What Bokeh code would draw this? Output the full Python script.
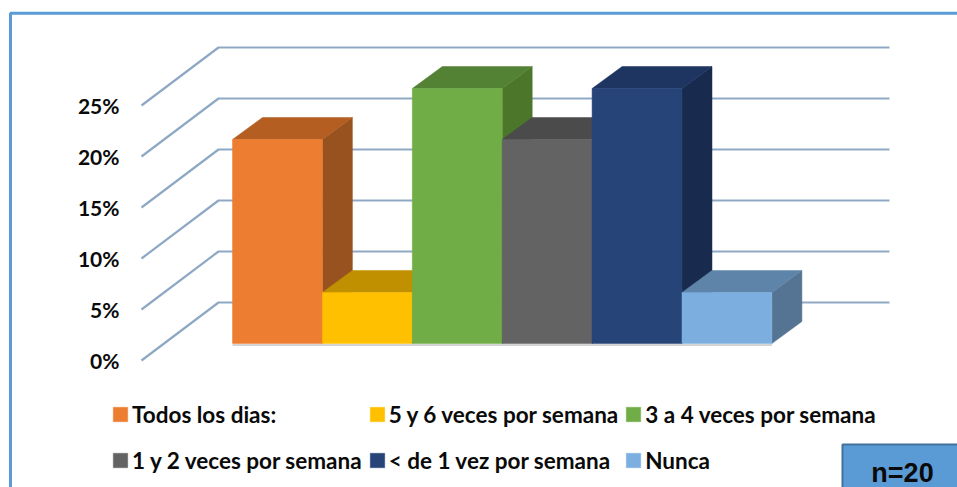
from bokeh.plotting import figure
from bokeh.embed import file_html
from bokeh.resources import INLINE
from bokeh.models import Range1d, FixedTicker, Legend, LegendItem, BoxAnnotation, Label

categories = ["Todos los dias:", "5 y 6 veces por semana", "3 a 4 veces por semana",
              "1 y 2 veces por semana", "< de 1 vez por semana", "Nunca"]
values = [20, 5, 25, 20, 25, 5]
front_colors = ["#ed7d31", "#ffc000", "#70ad47", "#636363", "#264478", "#7cafdf"]
top_colors = ["#b45e22", "#c19000", "#548235", "#4b4b4b", "#1d3560", "#5e84aa"]
side_colors = ["#97521f", "#a27a00", "#4c7629", "#434343", "#182b4e", "#557392"]
tick_values = [0, 5, 10, 15, 20, 25]
tick_labels = ["0%", "5%", "10%", "15%", "20%", "25%"]

W, H = 957, 487
PX_X = 89.9          # pixels per category
PX_Y = 10.2          # pixels per percent
X0_PAGE = 232.0      # page x of the first bar's left edge
Y0_PAGE = 360.0      # page y of 0 %

p = figure(width=W, height=H, output_backend="svg", toolbar_location=None,
           x_range=Range1d((0 - X0_PAGE) / PX_X, (W - X0_PAGE) / PX_X),
           y_range=Range1d((Y0_PAGE - H) / PX_Y, Y0_PAGE / PX_Y),
           min_border=0, min_border_left=0, min_border_right=0, min_border_top=0, min_border_bottom=0,
           outline_line_color=None, background_fill_color="white", border_fill_color="white")
p.xaxis.visible = False
p.xgrid.visible = False
p.ygrid.visible = False

# y axis on the front edge of the floor
wall_x0, wall_x1 = (218 - X0_PAGE) / PX_X, (889 - X0_PAGE) / PX_X
front_x = (141 - X0_PAGE) / PX_X
wall_dy = 58 / PX_Y
ax = p.yaxis[0]
ax.fixed_location = front_x
ax.ticker = FixedTicker(ticks=tick_values)
ax.major_label_overrides = {v: s for v, s in zip(tick_values, tick_labels)}
ax.axis_line_color = None
ax.major_tick_line_color = None
ax.minor_tick_line_color = None
ax.major_tick_out = 0
ax.major_label_standoff = 22
ax.major_label_text_font = "Lato"
ax.major_label_text_font_style = "bold"
ax.major_label_text_font_size = "21px"
ax.major_label_text_color = "#0a0a0a"

# gridlines: diagonal on the side wall, then along the back wall
GRID = "#8fa9c4"
for v in tick_values:
    p.line([front_x, wall_x0, wall_x1], [v, v + wall_dy, v + wall_dy],
           line_color=GRID, line_width=2.2)

# bars
base = 17 / PX_Y
dx = 30 / PX_X
dy = 22 / PX_Y
p.line([0, len(values)], [base - 1.5 / PX_Y] * 2, line_color="#d4d4d4", line_width=2)
items = []
for i, (name, val) in enumerate(zip(categories, values)):
    l, r, t, b = i, i + 1, base + val, base
    p.patch([r, r + dx, r + dx, r], [b, b + dy, t + dy, t], fill_color=side_colors[i],
            line_color=side_colors[i], line_width=0.5)
    p.patch([l, r, r + dx, l + dx], [t, t, t + dy, t + dy], fill_color=top_colors[i],
            line_color=top_colors[i], line_width=0.5)
    g = p.vbar(x=[i + 0.5], width=1, bottom=[b], top=[t], fill_color=front_colors[i],
               line_color=front_colors[i], line_width=0.5)
    items.append(LegendItem(label=name, renderers=[g]))

leg = Legend(items=items, ncols=3, location=(111, 7), orientation="horizontal",
             background_fill_alpha=0, border_line_color=None, padding=0, margin=0,
             glyph_width=18, glyph_height=18, label_standoff=3, spacing=6, label_height=40,
             label_text_font="Lato", label_text_font_style="bold", label_text_font_size="22.5px",
             label_text_color="#0a0a0a")
p.add_layout(leg, "center")

# outer frame of the slide box (its right and bottom edges lie beyond the picture)
p.add_layout(BoxAnnotation(left=10, right=W + 20, top=H - 12.7, bottom=-20,
                           left_units="screen", right_units="screen", top_units="screen", bottom_units="screen",
                           fill_alpha=0, line_color="#5b9bd5", line_alpha=1, line_width=3))

# n=20 box
p.add_layout(BoxAnnotation(left=842, right=965, top=H - 444, bottom=-8,
                           left_units="screen", right_units="screen", top_units="screen", bottom_units="screen",
                           fill_color="#5b9bd5", fill_alpha=1, line_color="#41719c", line_alpha=1, line_width=2))
p.add_layout(Label(x=902, y=15, x_units="screen", y_units="screen", text="n=20",
                   text_font="Liberation Sans", text_font_style="bold", text_font_size="27px",
                   text_color="#0a0a0a", text_align="center", text_baseline="alphabetic"))

open("out.html", "w").write(file_html(p, INLINE))
